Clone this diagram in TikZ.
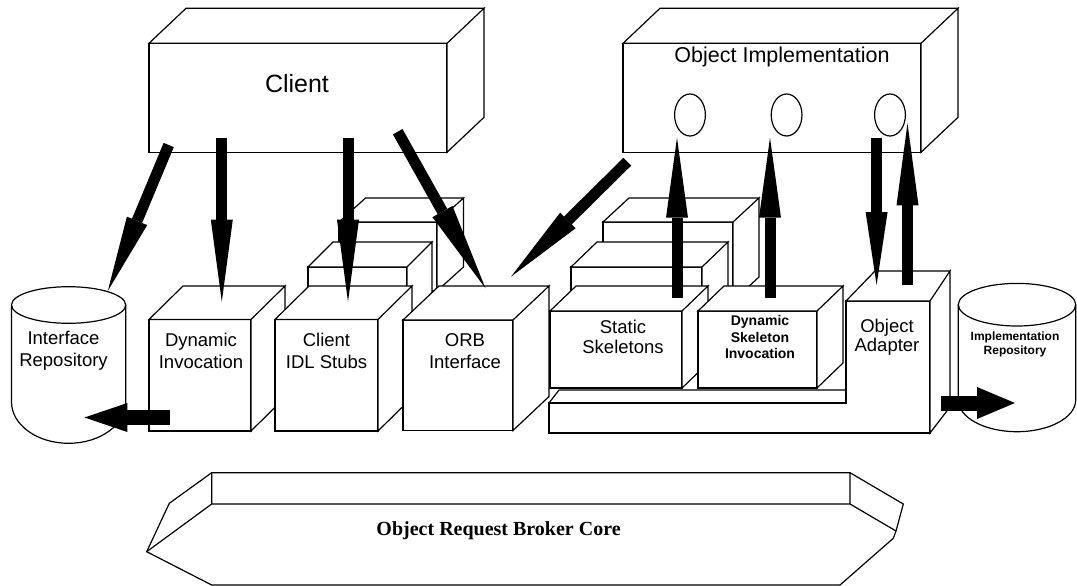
\documentclass[tikz,border=0pt]{standalone}
\usepackage{fontspec}
\setmainfont{Liberation Sans}
\newfontfamily\coreserif{Liberation Serif}
\usetikzlibrary{calc}

\tikzset{
  box/.style={draw, fill=white, line width=1.2pt, line join=miter, outer sep=0pt, inner sep=0pt},
  lbl/.style={align=center, inner sep=0pt, font=\fontsize{18.5}{22}\selectfont}
}
% fat arrow: from, to, shaft width, head length, half head width
\newcommand{\fatarrow}[5]{%
  \draw[line width=#3] (#1) -- ($(#2)!#4!(#1)$);
  \fill ($(#2)!#4!(#1)!#5!90:(#2)$) -- (#2) -- ($(#2)!#4!(#1)!#5!-90:(#2)$) -- cycle;
}

\begin{document}
\begin{tikzpicture}[x=1pt,y=-1pt]
\useasboundingbox (0,0) rectangle (1077,586);

% Client
\node[box, minimum width=298pt, minimum height=109pt, anchor=north west] (client) at (149,43.3) {};
\draw[box] (client.north west) -- ++(37,-35) -- ++(298,0) -- (client.north east) -- cycle
           (client.north east) -- ++(37,-35) -- ++(0,109) -- (client.south east) -- cycle;
\node[lbl, font=\fontsize{25}{30}\selectfont] (client-txt) at (297,84) {Client};

% Object implementation with its three objects
\node[box, minimum width=298pt, minimum height=109pt, anchor=north west] (impl) at (623,43.3) {};
\draw[box] (impl.north west) -- ++(37,-35) -- ++(298,0) -- (impl.north east) -- cycle
           (impl.north east) -- ++(37,-35) -- ++(0,109) -- (impl.south east) -- cycle;
\node[lbl, font=\fontsize{21.5}{26}\selectfont] (impl-txt) at (782,57) {Object Implementation};
\draw[box] (690,115) ellipse [x radius=15.4, y radius=21];
\draw[box] (786.6,115) ellipse [x radius=15.4, y radius=21];
\draw[box] (890,115) ellipse [x radius=15.4, y radius=21];

% ORB core
\draw[box] (211.7,472.7) -- (850,472.7) -- (903.3,504) -- (896,531) -- (893.3,538.3)
           -- (840,585) -- (211.7,585) -- (146.7,551.7) -- (169.3,503.3) -- cycle;
\draw[line width=1.2pt] (211.7,472.7) -- (211.7,504) -- (850,504) -- (850,472.7)
                        (146.7,551.7) -- (211.7,504) (850,504) -- (896,531);
\node[inner sep=0pt, font=\coreserif\bfseries\fontsize{20}{24}\selectfont] (core-txt) at (498.6,531) {Object Request Broker Core};

% Interface repository
\draw[box] (11.5,305) -- (11.5,402) arc[start angle=180, end angle=0, x radius=57.1, y radius=41.3] -- (125.7,305);
\draw[box] (68.6,305) ellipse [x radius=57.1, y radius=18.3];
\node[lbl] (ir) at (63.5,351) {Interface\\Repository};

% Implementation repository
\draw[box] (958.3,304.7) -- (958.3,400) arc[start angle=180, end angle=0, x radius=58.7, y radius=31.7] -- (1075.7,304.7);
\draw[box] (1017,304.7) ellipse [x radius=58.7, y radius=21.3];
\node[lbl, font=\bfseries\fontsize{12}{13.4}\selectfont] (implrep) at (1015,344.5) {Implementation\\Repository};

% stubs stacked behind client IDL stubs
\node[box, minimum width=98pt, minimum height=69pt, anchor=north west] (idl-back) at (339,222) {};
\draw[box] (idl-back.north west) -- ++(26.5,-24) -- ++(98,0) -- (idl-back.north east) -- cycle
           (idl-back.north east) -- ++(26.5,-24) -- ++(0,69) -- (idl-back.south east) -- cycle;
\node[box, minimum width=99pt, minimum height=73pt, anchor=north west] (idl-mid) at (308,267) {};
\draw[box] (idl-mid.north west) -- ++(25,-25) -- ++(99,0) -- (idl-mid.north east) -- cycle
           (idl-mid.north east) -- ++(25,-25) -- ++(0,73) -- (idl-mid.south east) -- cycle;

% client side boxes
\node[box, minimum width=102pt, minimum height=111.5pt, anchor=north west] (dyn) at (149,319.5) {};
\draw[box] (dyn.north west) -- ++(34,-33.5) -- ++(102,0) -- (dyn.north east) -- cycle
           (dyn.north east) -- ++(34,-33.5) -- ++(0,111.5) -- (dyn.south east) -- cycle;
\node[lbl] (dyn-txt) at (201,351) {Dynamic\\Invocation};

\node[box, minimum width=103pt, minimum height=111.5pt, anchor=north west] (stubs) at (275,319.5) {};
\draw[box] (stubs.north west) -- ++(34,-33.5) -- ++(103,0) -- (stubs.north east) -- cycle
           (stubs.north east) -- ++(34,-33.5) -- ++(0,111.5) -- (stubs.south east) -- cycle;
\node[lbl] (stubs-txt) at (326.5,351) {Client\\IDL Stubs};

\node[box, minimum width=110pt, minimum height=110.5pt, anchor=north west] (orbif) at (403,320) {};
\draw[box] (orbif.north west) -- ++(36,-34) -- ++(110,0) -- (orbif.north east) -- cycle
           (orbif.north east) -- ++(36,-34) -- ++(0,110.5) -- (orbif.south east) -- cycle;
\node[lbl] (orbif-txt) at (465,351) {ORB\\Interface};

% skeletons stacked behind static skeletons
\node[box, minimum width=130pt, minimum height=79pt, anchor=north west] (skel-back) at (603,222) {};
\draw[box] (skel-back.north west) -- ++(26,-24) -- ++(130,0) -- (skel-back.north east) -- cycle
           (skel-back.north east) -- ++(26,-24) -- ++(0,79) -- (skel-back.south east) -- cycle;
\node[box, minimum width=131pt, minimum height=83pt, anchor=north west] (skel-mid) at (571,267) {};
\draw[box] (skel-mid.north west) -- ++(26,-25) -- ++(131,0) -- (skel-mid.north east) -- cycle
           (skel-mid.north east) -- ++(26,-25) -- ++(0,83) -- (skel-mid.south east) -- cycle;

% platform and object adapter
\draw[box] (549,403) -- (559,390) -- (856,390) -- (846,403) -- cycle;
\draw[box] (549,403) -- (846,403) -- (846,301) -- (930,301) -- (930,433) -- (549,433) -- cycle;
\draw[box] (846,301) -- (875,271) -- (950,271) -- (930,301) -- cycle
           (930,301) -- (950,271) -- (950,407) -- (930,433) -- cycle;
\node[lbl, font=\fontsize{18.5}{19.5}\selectfont] (oa) at (887,337) {Object\\Adapter};

% server side boxes
\node[box, minimum width=132pt, minimum height=77pt, anchor=north west] (static) at (550,311) {};
\draw[box] (static.north west) -- ++(26,-25) -- ++(132,0) -- (static.north east) -- cycle
           (static.north east) -- ++(26,-25) -- ++(0,77) -- (static.south east) -- cycle;
\node[lbl, font=\fontsize{18.5}{20}\selectfont] (static-txt) at (623,337) {Static\\Skeletons};

\node[box, minimum width=119pt, minimum height=77pt, anchor=north west] (dsi) at (698,311) {};
\draw[box] (dsi.north west) -- ++(26,-25) -- ++(119,0) -- (dsi.north east) -- cycle
           (dsi.north east) -- ++(26,-25) -- ++(0,77) -- (dsi.south east) -- cycle;
\node[lbl, font=\bfseries\fontsize{14}{16.2}\selectfont] (dsi-txt) at (760,337) {Dynamic\\Skeleton\\Invocation};

% arrow ends
\coordinate (cl-a) at (168.7,145);    \coordinate (ir-a) at (107.8,291);
\coordinate (cl-b) at (221.8,137.5);  \coordinate (dyn-a) at (221.8,301.7);
\coordinate (cl-c) at (348,137.5);    \coordinate (stubs-a) at (348,301.7);
\coordinate (cl-d) at (397.7,131.7);  \coordinate (orb-a) at (485.5,288.3);
\coordinate (impl-a) at (627.3,161.7);\coordinate (orb-b) at (511,276.7);
\coordinate (static-a) at (677,298.3);\coordinate (obj1) at (677,137.7);
\coordinate (dsi-a) at (770,298.3);   \coordinate (obj2) at (770,137.7);
\coordinate (impl-b) at (876.6,137.7);\coordinate (oa-a) at (876.6,285);
\coordinate (oa-b) at (907.5,285);    \coordinate (obj3) at (907.5,123.3);
\coordinate (dyn-b) at (169.8,417.5); \coordinate (ir-b) at (84.4,417.5);
\coordinate (oa-c) at (940.7,403);    \coordinate (implrep-a) at (1015,403);

% requests
\fatarrow{cl-a}{ir-a}{11pt}{76pt}{11pt}
\fatarrow{cl-b}{dyn-a}{11pt}{82pt}{11pt}
\fatarrow{cl-c}{stubs-a}{11pt}{82pt}{11pt}
\fatarrow{cl-d}{orb-a}{11pt}{88pt}{11.5pt}
\fatarrow{impl-a}{orb-b}{11pt}{80pt}{11pt}
\fatarrow{static-a}{obj1}{11pt}{80pt}{11pt}
\fatarrow{dsi-a}{obj2}{11pt}{80pt}{11pt}
\fatarrow{impl-b}{oa-a}{11pt}{73pt}{11pt}
\fatarrow{oa-b}{obj3}{11pt}{82pt}{11pt}
\fatarrow{dyn-b}{ir-b}{15pt}{43pt}{14.5pt}
\fatarrow{oa-c}{implrep-a}{15pt}{38pt}{16pt}
\end{tikzpicture}
\end{document}
